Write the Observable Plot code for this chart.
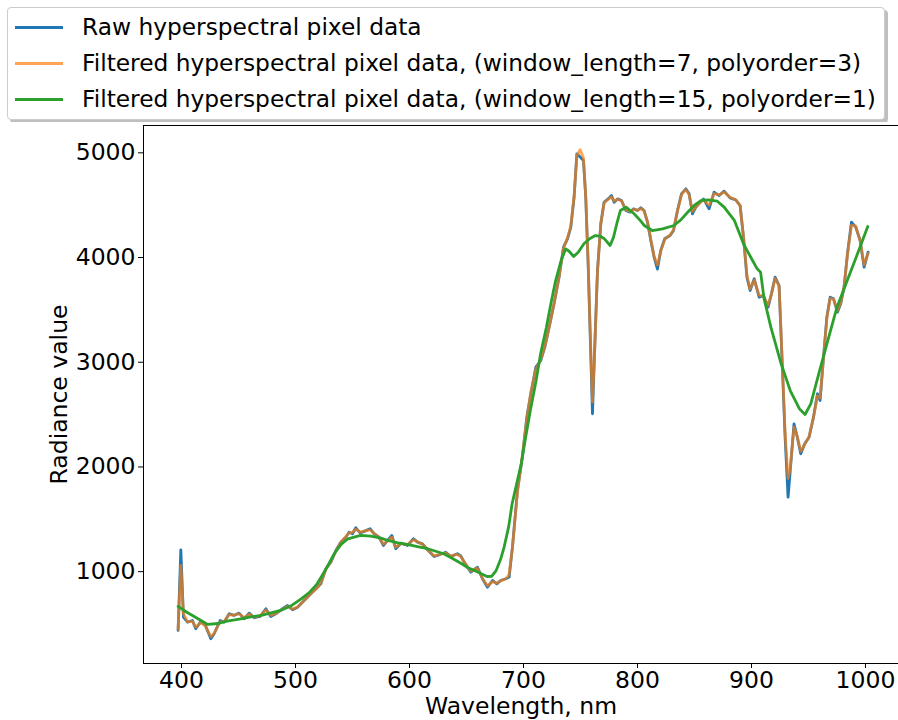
<!DOCTYPE html>
<html>
<head>
<meta charset="utf-8">
<script src="https://cdn.jsdelivr.net/npm/d3@7"></script>
<script src="https://cdn.jsdelivr.net/npm/@observablehq/plot@0.6"></script>
<style>
  body { margin: 0; background: white; font-family: "DejaVu Sans", sans-serif; }
  #wrap { position: relative; width: 898px; height: 720px; overflow: hidden; }
  #legend { position: absolute; left: 7px; top: 7px; width: 878px; height: 113px; background: white;
            border: 1px solid #cccccc; border-radius: 4px; box-shadow: 3px 3px 0 rgba(128,128,128,0.5); box-sizing: border-box; }
  .row { position: absolute; left: 0; height: 30px; width: 100%; }
  .sw { position: absolute; left: 7px; width: 48px; height: 3px; }
  .lt { position: absolute; left: 74px; font-size: 23.3px; color: #000; white-space: nowrap; line-height: 30px; }
  #chart { position: absolute; left: 0; top: 122px; }
</style>
</head>
<body>
<div id="wrap">
  <div id="legend"></div>
  <div id="chart"></div>
</div>
<script>
// ---- data ----
const seriesNames = [
  "Raw hyperspectral pixel data",
  "Filtered hyperspectral pixel data, (window_length=7, polyorder=3)",
  "Filtered hyperspectral pixel data, (window_length=15, polyorder=1)"
];
const seriesColors = ["#1f77b4", "rgba(255,127,14,0.7)", "#2ca02c"];

// raw band wavelengths (nm)
const wavelengths = [397,399.4,401.7,405.3,409.6,412.5,417,421,425.7,428.6,433.9,437.4,441.8,446,450.5,455,459.3,463.7,469,474,478.3,482.7,488.6,493,497.4,501.8,507.6,513.4,519.3,522.2,526.6,531,535.4,539.7,544.1,547,550,552.9,556.7,560.8,565.4,569,573.3,577.2,580.7,584.5,588,592.4,598.2,603.5,607,611.4,615.8,621.6,626,631.8,636.2,642,645,648,653.8,659.6,664,668.4,672.8,676.6,680,684.5,687.4,690.3,694.7,699,702.9,706.4,710.8,715.2,718.7,722.5,726.8,731.2,735.1,738.6,741.5,744.4,746.8,749.7,752.6,754.6,756.7,758.4,760.5,762.5,764.9,767.8,770.7,774.2,777.2,779.5,782.5,786,789.7,793.5,796.5,800,802.9,805.8,808.8,811.7,814.6,817.5,820.4,823.9,828.6,831.6,835.1,838.6,842.4,845.3,848.2,851.2,854.9,857.9,862.8,867.2,871.6,876,881.2,886.2,890,893,896,898.8,902.4,906.7,910.5,914.6,917.5,920.7,924.2,927.2,929.5,932.1,934,937.3,940.2,943.2,946.7,950.5,954.4,957.9,960.2,963.2,966.1,969,972,975.4,978.3,981.2,984.2,987.7,991.5,995.3,998.8,1002.3];

// raw radiance
const rawValues = [439,1209,565,518,534,455,527,486,359,407,534,518,598,582,604,550,604,560,572,646,572,598,646,677,636,661,725,789,852,884,1028,1091,1202,1282,1329,1377,1362,1419,1371,1387,1410,1362,1329,1250,1298,1346,1219,1272,1250,1314,1282,1266,1209,1145,1161,1186,1145,1171,1150,1091,995,1043,932,852,916,884,916,932,948,1234,1775,2094,2476,2699,2953,3017,3144,3335,3558,3812,4099,4179,4290,4576,4990,4960,4927,4576,3940,3303,2508,3144,3876,4322,4528,4560,4592,4528,4560,4545,4449,4433,4465,4449,4475,4449,4337,4163,4003,3890,4067,4179,4210,4258,4449,4608,4656,4608,4418,4481,4528,4560,4465,4624,4592,4634,4570,4551,4497,4194,3812,3685,3797,3621,3637,3526,3653,3812,3733,2921,2284,1711,1966,2412,2284,2126,2221,2284,2476,2699,2635,3049,3430,3621,3606,3478,3558,3717,4036,4337,4290,4163,3908,4051];

// Savitzky-Golay (7, 3) filtered radiance, same wavelengths
const filtered7Values = [450,1060,600,520,525,470,515,480,380,410,520,525,590,585,598,560,595,565,578,635,582,600,642,670,642,662,725,790,850,895,1020,1095,1195,1280,1335,1370,1375,1405,1378,1390,1400,1365,1325,1262,1292,1330,1232,1268,1258,1305,1285,1262,1212,1150,1162,1180,1150,1165,1145,1090,1005,1035,935,865,905,890,912,930,975,1230,1760,2110,2460,2710,2930,3030,3150,3335,3560,3815,4090,4190,4300,4590,4975,5030,4950,4580,3960,3330,2620,3130,3860,4320,4520,4555,4580,4540,4555,4540,4455,4440,4460,4452,4468,4445,4340,4170,4010,3930,4060,4175,4215,4265,4450,4600,4650,4600,4440,4480,4525,4550,4500,4610,4600,4625,4575,4550,4495,4200,3830,3700,3785,3640,3630,3545,3650,3800,3730,2950,2320,1890,1990,2380,2290,2150,2215,2290,2475,2680,2660,3040,3420,3610,3600,3495,3565,3720,4030,4310,4300,4160,3930,4040];

// Savitzky-Golay (15, 1) filtered radiance
const wl15 = [397,405,413,423,432,440,452,462,470,487,497,505,512,519,527,534,540,546,557,566,575,581,590,598,607,616,623,630,637,645,651,657,663,668,672,676,680,683,687,690,694,698,702,706,711,715,720,724,728,733,737,740,744,748,753,758,763,767,771,776,779,782,785,790,797,802,806,813,822,832,838,844,850,856,862,870,876,885,893,899,905,908,911,917,926,934,942,947,952,959,967,975,984,993,1002];
const filtered15Values = [668,610,560,496,505,527,550,570,582,630,680,741,800,884,1030,1171,1260,1314,1346,1339,1320,1298,1275,1260,1240,1219,1195,1171,1130,1080,1040,1011,980,954,955,1011,1120,1234,1430,1648,1840,2030,2290,2539,2820,3081,3330,3558,3770,3972,4083,4060,4010,4050,4131,4180,4210,4205,4179,4115,4195,4330,4449,4481,4418,4360,4306,4258,4274,4306,4360,4433,4500,4545,4550,4538,4481,4354,4131,4010,3892,3860,3610,3335,2985,2730,2556,2501,2603,2890,3208,3526,3781,4036,4296];

const xTicks = [400,500,600,700,800,900,1000];
const yTicks = [1000,2000,3000,4000,5000];
const xLabel = "Wavelength, nm";
const yLabel = "Radiance value";

// ---- tables ----
const raw = wavelengths.map((w, i) => ({w, v: rawValues[i]}));
const f7 = wavelengths.map((w, i) => ({w, v: filtered7Values[i]}));
const f15 = wl15.map((w, i) => ({w, v: filtered15Values[i]}));

// ---- legend ----
const legend = document.getElementById("legend");
const rowTops = [4, 40, 76];
seriesNames.forEach((name, i) => {
  const row = document.createElement("div");
  row.className = "row";
  row.style.top = rowTops[i] + "px";
  const sw = document.createElement("div");
  sw.className = "sw";
  sw.style.top = "13.5px";
  sw.style.background = seriesColors[i];
  const t = document.createElement("div");
  t.className = "lt";
  t.textContent = name;
  row.appendChild(sw);
  row.appendChild(t);
  legend.appendChild(row);
});

// ---- chart ----
const FS = 23.5;
const chart = Plot.plot({
  width: 898,
  height: 598,
  marginLeft: 143, marginRight: 0, marginTop: 3, marginBottom: 57,
  style: {fontFamily: "DejaVu Sans", fontSize: FS + "px", color: "#000", background: "white"},
  x: {domain: [367, 1033], range: [143.4, 902.6]},
  y: {domain: [123, 5261], range: [541, 3]},
  marks: [
    Plot.axisX({ticks: xTicks, tickSize: 5, tickPadding: 3, tickFormat: d => String(d), fontSize: FS, label: null, stroke: "#000"}),
    Plot.axisY({ticks: yTicks, tickSize: 5, tickPadding: 3, tickFormat: d => String(d), fontSize: FS, label: null, stroke: "#000"}),
    Plot.line(raw, {x: "w", y: "v", stroke: seriesColors[0], strokeWidth: 2.8}),
    Plot.line(f7, {x: "w", y: "v", stroke: "#ff7f0e", strokeOpacity: 0.7, strokeWidth: 2.8}),
    Plot.line(f15, {x: "w", y: "v", stroke: seriesColors[2], strokeWidth: 2.8}),
    Plot.frame({stroke: "#000", strokeWidth: 1}),
    Plot.text([xLabel], {frameAnchor: "bottom", dy: 43, text: d => d, fontSize: FS, lineAnchor: "middle", textAnchor: "middle"}),
    Plot.text([yLabel], {frameAnchor: "left", dx: -84, rotate: -90, text: d => d, fontSize: FS, textAnchor: "middle"})
  ]
});
document.getElementById("chart").appendChild(chart);
</script>
</body>
</html>
